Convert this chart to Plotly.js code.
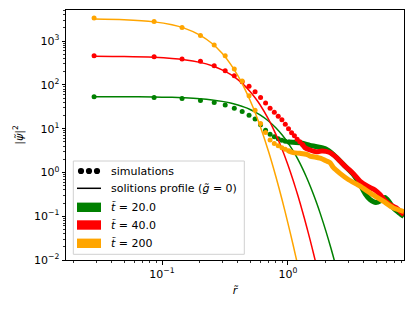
<!DOCTYPE html>
<html>
<head>
<meta charset="utf-8">
<script src="https://cdn.plot.ly/plotly-3.0.1.min.js"></script>
<style>html,body{margin:0;padding:0;background:#fff;}#plot{width:415px;height:312px;}</style>
</head>
<body>
<div id="plot"></div>
<script>
// ---- simulation points (sparse part, markers) ----
const rSim = [0.0289, 0.0866, 0.1443, 0.202, 0.2597, 0.3174, 0.375, 0.433, 0.491, 0.548, 0.606, 0.664, 0.721, 0.779, 0.837, 0.895, 0.952, 1.01, 1.068, 1.125, 1.183, 1.241, 1.299];
const simGreen  = [53.3, 51.7, 49, 44.1, 39.7, 34.8, 29.4, 24.8, 20.3, 16.7, 12.3, 9.19, 7.44, 6.52, 5.87, 5.42, 5.14, 4.95];
const simRed    = [465, 441, 391, 346, 274, 211, 162, 118, 92.4, 69.5, 51.2, 38.3, 29.4, 23.8, 19.2, 16.0, 12.6, 9.95, 8.05, 6.87, 5.71, 5.0, 4.39];
const simOrange = [3350, 2800, 2040, 1337, 818, 465, 230, 122, 56.2, 26.4, 13.1, 8.14, 5.5, 4.6, 4.05, 3.65, 3.37, 3.11];

// ---- simulation points (dense part, merged into a thick band) ----
const rBandGreen = [1.009, 1.245, 1.495, 1.69, 1.966, 2.288, 2.586, 2.923, 3.298, 3.728, 4.085, 4.475, 4.994, 5.47, 5.887, 6.332, 6.938, 7.742, 8.33];
const bandGreen  = [4.95, 4.75, 4.16, 3.88, 3.5, 2.59, 1.82, 1.28, 0.9, 0.531, 0.33, 0.24, 0.205, 0.228, 0.267, 0.216, 0.149, 0.115, 0.098];
const rBandRed = [1.299, 1.364, 1.495, 1.69, 1.851, 2.002, 2.154, 2.435, 2.586, 2.835, 3.105, 3.402, 3.728, 4.314, 4.904, 5.373, 5.887, 6.449, 7.195, 8.33];
const bandRed  = [4.39, 3.68, 3.25, 2.95, 3.08, 3.03, 2.83, 2.17, 1.82, 1.39, 1.11, 0.853, 0.631, 0.477, 0.397, 0.313, 0.228, 0.185, 0.157, 0.109];
const rBandOrange = [1.01, 1.102, 1.245, 1.407, 1.495, 1.795, 2.028, 2.154, 2.288, 2.586, 3.01, 3.728, 4.475, 5.705, 6.849, 8.33];
const bandOrange  = [3.11, 2.83, 2.73, 2.59, 2.37, 2.12, 1.82, 1.67, 1.30, 0.949, 0.69, 0.485, 0.342, 0.22, 0.155, 0.128];

// ---- soliton profiles (g = 0) ----
const rSol = [0.0289, 0.05, 0.0866, 0.12, 0.15, 0.2, 0.25, 0.3, 0.35, 0.4, 0.45, 0.5, 0.55, 0.6, 0.7, 0.8, 0.9, 1.0, 1.1, 1.2, 1.3, 1.4, 1.5, 1.6, 1.7, 1.8, 2.0, 2.2, 2.4];
const solGreen  = [53.87, 53.62, 52.86, 51.84, 50.67, 48.23, 45.3, 41.97, 38.4, 34.7, 30.97, 27.34, 23.86, 20.6, 14.96, 10.48, 7.14, 4.74, 3.09, 1.98, 1.253, 0.787, 0.491, 0.305, 0.1894, 0.1176, 0.0457, 0.0180, 0.00727];
const solRed    = [449.9, 443.6, 425.6, 402, 376, 326.4, 273, 220.6, 172.8, 131.4, 97.4, 70.7, 50.2, 35.2, 16.5, 7.51, 3.34, 1.477, 0.654, 0.292, 0.132, 0.0605, 0.0284, 0.01357, 0.00661];
const solOrange = [3189, 3071, 2746, 2359, 1980, 1374, 879, 526, 298, 162, 85.7, 44.4, 22.8, 11.6, 3.04, 0.818, 0.231, 0.0688, 0.0217, 0.00722, 0.00254];

// ---- labels ----
const seriesNames = ['<i>t̃</i> = 20.0', '<i>t̃</i> = 40.0', '<i>t̃</i> = 200'];
const seriesColors = ['#008000', '#ff0000', '#ffa500'];
const xTickVals = [0.1, 1];
const xTickText = ['10<sup>−1</sup>', '10<sup>0</sup>'];
const yTickVals = [0.01, 0.1, 1, 10, 100, 1000];
const yTickText = ['10<sup>−2</sup>', '10<sup>−1</sup>', '10<sup>0</sup>', '10<sup>1</sup>', '10<sup>2</sup>', '10<sup>3</sup>'];
const legSim = 'simulations';
const legSol = 'solitions profile (<i>g̃</i> = 0)';

const sims = [simGreen, simRed, simOrange];
const bandsR = [rBandGreen, rBandRed, rBandOrange];
const bands = [bandGreen, bandRed, bandOrange];
const sols = [solGreen, solRed, solOrange];

const traces = [];
for (let i = 0; i < 3; i++) {
  traces.push({x: rSim.slice(0, sims[i].length), y: sims[i], mode: 'markers', type: 'scatter',
    marker: {color: seriesColors[i], size: 5}, showlegend: false, hoverinfo: 'skip'});
  traces.push({x: bandsR[i], y: bands[i], mode: 'lines', type: 'scatter',
    line: {color: seriesColors[i], width: 5, shape: 'spline', smoothing: 0.6}, showlegend: false, hoverinfo: 'skip'});
  traces.push({x: rSol.slice(0, sols[i].length), y: sols[i], mode: 'lines', type: 'scatter',
    line: {color: seriesColors[i], width: 1.5, shape: 'spline', smoothing: 0.8}, showlegend: false, hoverinfo: 'skip'});
}

// pixel helpers for the hand-built legend
const L = 66, R = 404, T = 10, B = 260;
const px = v => (v - L) / (R - L);
const py = v => (B - v) / (B - T);

const minorVals = [];
for (let e = -3; e <= 4; e++) for (let d = 2; d <= 9; d++) minorVals.push(d * Math.pow(10, e));

const shapes = [
  {type: 'rect', xref: 'paper', yref: 'paper', x0: px(73.3), x1: px(244.3), y0: py(254.3), y1: py(161),
   fillcolor: 'rgba(255,255,255,0.85)', line: {color: '#d0d0d0', width: 1}, layer: 'above'},
  {type: 'line', xref: 'paper', yref: 'paper', x0: px(77), x1: px(101), y0: py(188.3), y1: py(188.3),
   line: {color: '#000', width: 1.5}, layer: 'above'}
];
[81, 89, 97].forEach(cx => shapes.push({type: 'circle', xref: 'paper', yref: 'paper',
  x0: px(cx - 3.1), x1: px(cx + 3.1), y0: py(171 + 3.1), y1: py(171 - 3.1),
  fillcolor: '#000', line: {width: 0}, layer: 'above'}));
const rowY = [207.3, 225, 243.3];
rowY.forEach((yy, i) => shapes.push({type: 'rect', xref: 'paper', yref: 'paper',
  x0: px(77), x1: px(101), y0: py(yy + 4.7), y1: py(yy - 4.7),
  fillcolor: seriesColors[i], line: {color: seriesColors[i], width: 0}, layer: 'above'}));

const annFont = {family: 'DejaVu Sans', size: 11, color: '#000'};
const annotations = [
  {xref: 'paper', yref: 'paper', x: px(109), y: py(171), text: legSim, showarrow: false, xanchor: 'left', yanchor: 'middle', font: annFont},
  {xref: 'paper', yref: 'paper', x: px(109), y: py(188.3), text: legSol, showarrow: false, xanchor: 'left', yanchor: 'middle', font: annFont}
];
rowY.forEach((yy, i) => annotations.push({xref: 'paper', yref: 'paper', x: px(109), y: py(yy),
  text: seriesNames[i], showarrow: false, xanchor: 'left', yanchor: 'middle', font: annFont}));

const axisCommon = {
  type: 'log', showgrid: false, zeroline: false, showline: true, linecolor: '#000', linewidth: 1, mirror: true,
  ticks: 'outside', ticklen: 3.5, tickwidth: 1, tickcolor: '#000',
  tickfont: {family: 'DejaVu Sans', size: 11, color: '#000'},
  minor: {tickvals: minorVals, ticks: 'outside', ticklen: 2, tickwidth: 0.8, tickcolor: '#000', showgrid: false}
};

const layout = {
  width: 415, height: 312,
  margin: {l: L, r: 415 - R, t: T, b: 312 - B},
  paper_bgcolor: '#fff', plot_bgcolor: '#fff',
  font: {family: 'DejaVu Sans', size: 11, color: '#000'},
  showlegend: false,
  xaxis: Object.assign({}, axisCommon, {range: [-1.762, 0.921], tickvals: xTickVals, ticktext: xTickText,
    title: {text: '<i>r̃</i>', font: {family: 'DejaVu Sans', size: 11}, standoff: 6}}),
  yaxis: Object.assign({}, axisCommon, {range: [-2, 3.71], tickvals: yTickVals, ticktext: yTickText,
    title: {text: '|<i>ψ̃</i>|<sup>2</sup>', font: {family: 'DejaVu Sans', size: 11}, standoff: 8}}),
  shapes: shapes,
  annotations: annotations
};

Plotly.newPlot('plot', traces, layout, {staticPlot: true, displayModeBar: false});
</script>
</body>
</html>
